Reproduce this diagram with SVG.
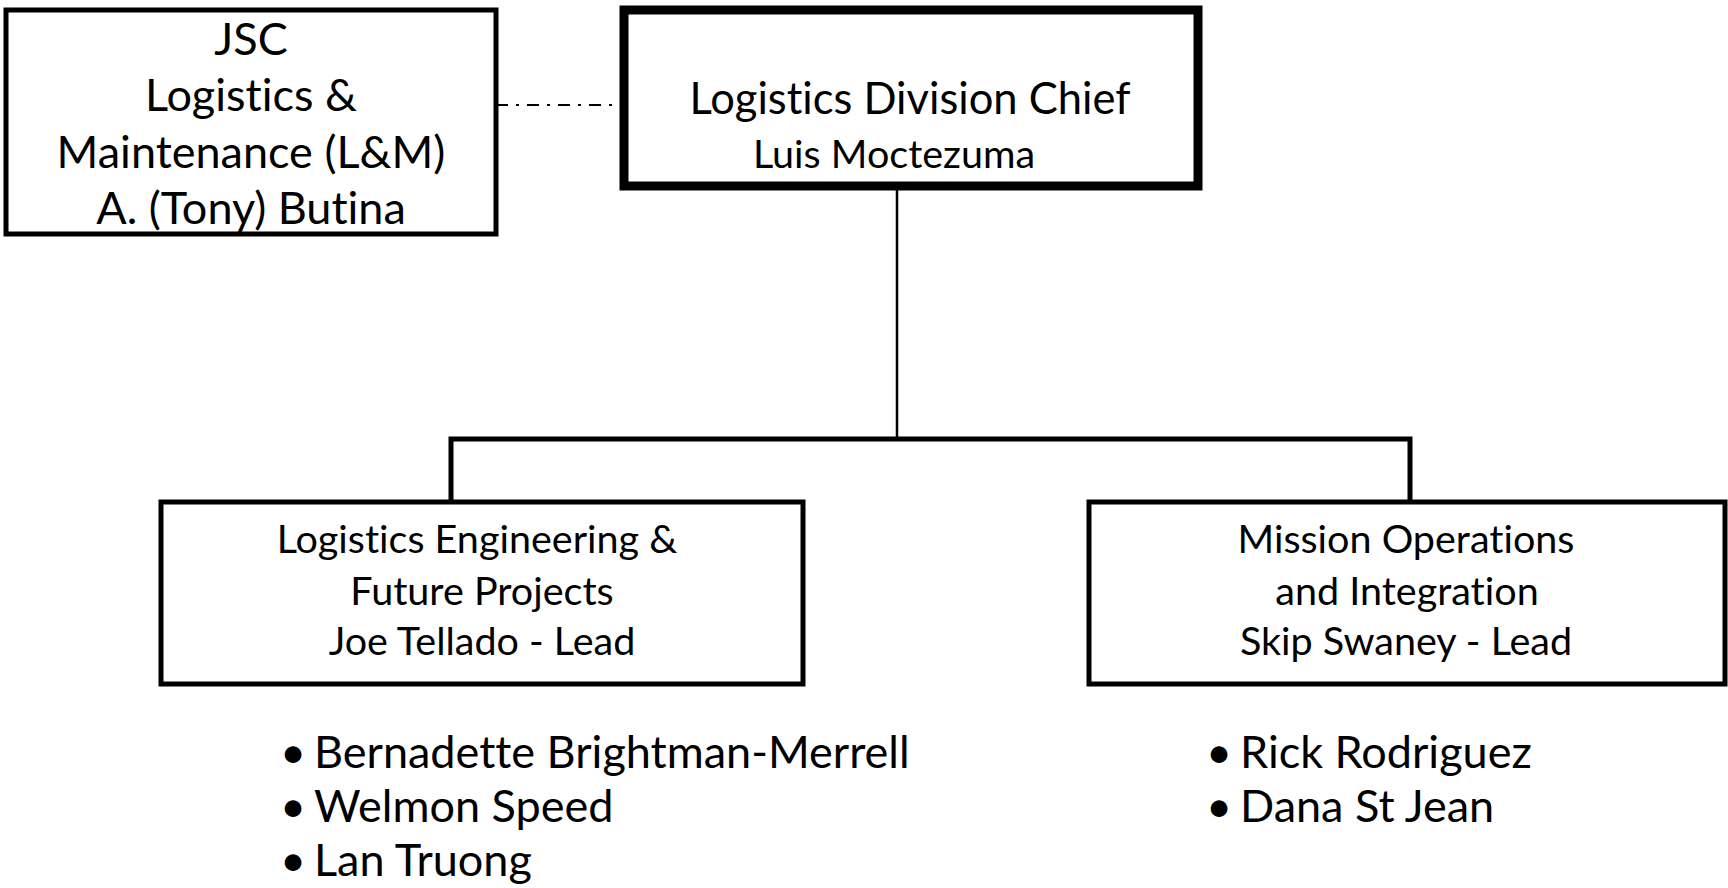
<svg xmlns="http://www.w3.org/2000/svg" width="1728" height="888" viewBox="0 0 1728 888">
<style>
  .box { fill: #ffffff; stroke: #000000; }
  .thin { stroke-width: 5; }
  .thick { stroke-width: 9; }
  .t { font-family: Lato, "Open Sans", "Liberation Sans", sans-serif; fill: #000000; text-anchor: middle; font-variant-ligatures: none; font-feature-settings: "liga" 0, "clig" 0; }
  .l { font-size: 45px; }
  .c { font-size: 43.5px; }
  .m { font-size: 39.5px; }
  .bl { font-family: Lato, "Open Sans", "Liberation Sans", sans-serif; fill: #000000; font-size: 45px; font-variant-ligatures: none; font-feature-settings: "liga" 0, "clig" 0; }
  .conn { fill: none; stroke: #000000; stroke-linecap: butt; }
</style>
<rect width="1728" height="888" fill="#ffffff"/>
<g id="connectors">
  <line class="conn" x1="496" y1="105" x2="624" y2="105" stroke-width="2" stroke-dasharray="12 8 3 8"/>
  <line class="conn" x1="897" y1="186" x2="897" y2="439" stroke-width="2.5"/>
  <polyline class="conn" points="451,502 451,439 1410,439 1410,502" stroke-width="5" stroke-linejoin="miter"/>
</g>
<g id="node-jsc">
  <rect class="box thin" x="6" y="10" width="490" height="224"/>
  <text class="t l" x="251" y="55">JSC</text>
  <text class="t l" x="251" y="111">Logistics &amp;</text>
  <text class="t l" x="251" y="168">Maintenance (L&amp;M)</text>
  <text class="t l" x="251" y="224">A. (Tony) Butina</text>
</g>
<g id="node-chief">
  <rect class="box thick" x="624" y="10" width="574" height="176"/>
  <text class="t c" x="910" y="114">Logistics Division Chief</text>
  <text class="t m" x="894" y="168">Luis Moctezuma</text>
</g>
<g id="node-engineering">
  <rect class="box thin" x="161" y="502" width="642" height="182"/>
  <text class="t m" x="477" y="553">Logistics Engineering &amp;</text>
  <text class="t m" x="482" y="605">Future Projects</text>
  <text class="t m" x="482" y="655">Joe Tellado - Lead</text>
</g>
<g id="node-operations">
  <rect class="box thin" x="1089" y="502" width="636" height="182"/>
  <text class="t m" x="1406" y="553">Mission Operations</text>
  <text class="t m" x="1407" y="605">and Integration</text>
  <text class="t m" x="1406" y="655">Skip Swaney - Lead</text>
</g>
<g id="list-engineering">
  <text class="bl" y="768"><tspan x="280">•</tspan><tspan x="314">Bernadette Brightman-Merrell</tspan></text>
  <text class="bl" y="822"><tspan x="280">•</tspan><tspan x="314">Welmon Speed</tspan></text>
  <text class="bl" y="876"><tspan x="280">•</tspan><tspan x="314">Lan Truong</tspan></text>
</g>
<g id="list-operations">
  <text class="bl" y="768"><tspan x="1206">•</tspan><tspan x="1240">Rick Rodriguez</tspan></text>
  <text class="bl" y="822"><tspan x="1206">•</tspan><tspan x="1240">Dana St Jean</tspan></text>
</g>
</svg>
